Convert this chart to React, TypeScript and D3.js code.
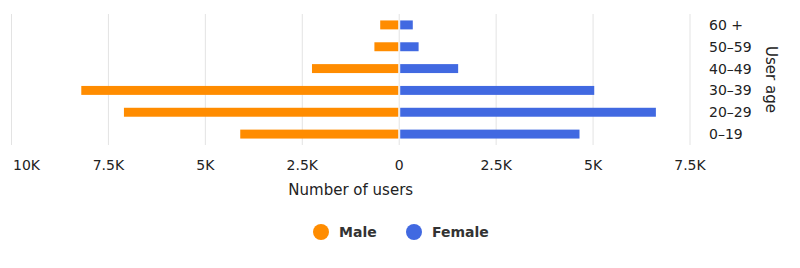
import React from "react";
import * as d3 from "d3";

const categories = ["60 +", "50–59", "40–49", "30–39", "20–29", "0–19"];
const maleValues = [490, 640, 2250, 8200, 7100, 4100];
const femaleValues = [350, 500, 1520, 5030, 6620, 4650];
const tickValues = [-10000, -7500, -5000, -2500, 0, 2500, 5000, 7500];
const tickLabels = ["10K", "7.5K", "5K", "2.5K", "0", "2.5K", "5K", "7.5K"];
const seriesNames = ["Male", "Female"];
const seriesColors = ["#ff8c00", "#4169e1"];

const W = 800;
const H = 268;
const FONT = "'DejaVu Sans', sans-serif";

export default function App() {
  const x = d3.scaleLinear().domain([-10000, 7500]).range([11.5, 690]);
  const y = d3
    .scaleBand<string>()
    .domain(categories)
    .range([14, 145])
    .paddingInner(0.59)
    .paddingOuter(0.295);
  const x0 = x(0);
  const bw = y.bandwidth();

  return (
    <svg
      width={W}
      height={H}
      style={{ position: "absolute", left: 0, top: 0, background: "#fff" }}
      fontFamily={FONT}
    >
      <rect x={0} y={0} width={W} height={H} fill="#fff" />
      {tickValues.map((t) => (
        <line
          key={"g" + t}
          x1={x(t)}
          x2={x(t)}
          y1={14}
          y2={145}
          stroke="#e3e3e3"
          strokeWidth={1}
        />
      ))}
      {categories.map((c, i) => (
        <g key={c}>
          <rect
            x={x(-maleValues[i])}
            y={y(c)}
            width={x0 - 1 - x(-maleValues[i])}
            height={bw}
            fill={seriesColors[0]}
          />
          <rect
            x={x0 + 1}
            y={y(c)}
            width={x(femaleValues[i]) - x0 - 1}
            height={bw}
            fill={seriesColors[1]}
          />
          <text
            x={709}
            y={(y(c) as number) + bw / 2}
            dy="0.36em"
            fontSize={14}
            fill="#222"
          >
            {c}
          </text>
        </g>
      ))}
      {tickValues.map((t, i) => (
        <text
          key={"t" + t}
          x={i === 0 ? x(t) + 1.5 : x(t)}
          y={170}
          textAnchor={i === 0 ? "start" : "middle"}
          fontSize={14}
          fill="#222"
        >
          {tickLabels[i]}
        </text>
      ))}
      <text
        x={(x(-10000) + x(7500)) / 2}
        y={195}
        textAnchor="middle"
        fontSize={15}
        fill="#222"
      >
        Number of users
      </text>
      <text
        transform={`translate(766, 79.5) rotate(90)`}
        textAnchor="middle"
        fontSize={15}
        fill="#222"
      >
        User age
      </text>
      {seriesNames.map((s, i) => {
        const cx = i === 0 ? 321 : 414;
        return (
          <g key={s}>
            <circle cx={cx} cy={232} r={8} fill={seriesColors[i]} />
            <text
              x={cx + 18}
              y={237}
              fontSize={14}
              fontWeight="bold"
              fill="#333"
            >
              {s}
            </text>
          </g>
        );
      })}
    </svg>
  );
}
